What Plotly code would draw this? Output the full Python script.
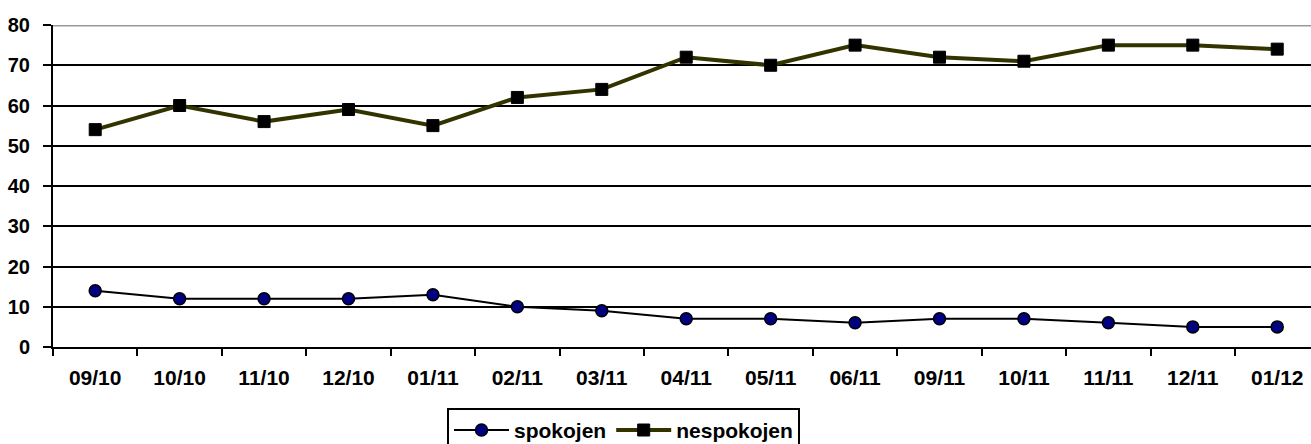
import plotly.graph_objects as go

categories = ["09/10", "10/10", "11/10", "12/10", "01/11", "02/11", "03/11", "04/11",
              "05/11", "06/11", "09/11", "10/11", "11/11", "12/11", "01/12"]
spokojen = [14, 12, 12, 12, 13, 10, 9, 7, 7, 6, 7, 7, 6, 5, 5]
nespokojen = [54, 60, 56, 59, 55, 62, 64, 72, 70, 75, 72, 71, 75, 75, 74]
y_ticks = [0, 10, 20, 30, 40, 50, 60, 70, 80]

font_family = "Liberation Sans, Arial, sans-serif"

fig = go.Figure()
fig.add_trace(go.Scatter(
    x=categories, y=spokojen, name="spokojen", mode="lines+markers",
    line=dict(color="black", width=2),
    marker=dict(symbol="circle", size=12, color="#000080", line=dict(color="black", width=1.5)),
))
fig.add_trace(go.Scatter(
    x=categories, y=nespokojen, name="nespokojen", mode="lines+markers",
    line=dict(color="#333300", width=4),
    marker=dict(symbol="square", size=12, color="black", line=dict(color="black", width=1)),
))

fig.update_layout(
    width=1311, height=444,
    margin=dict(l=53, r=0, t=25, b=97, autoexpand=False),
    paper_bgcolor="white", plot_bgcolor="white",
    font=dict(family=font_family, size=20, color="black"),
    showlegend=True,
    legend=dict(
        orientation="h", x=0.4535, xanchor="center", y=-0.189, yanchor="top",
        bordercolor="black", borderwidth=2, font=dict(size=21, color="black", weight="bold"),
        itemwidth=55, tracegroupgap=0,
    ),
)
fig.update_xaxes(
    type="category", range=[-0.5, 14.4], automargin=False,
    showline=True, linecolor="black", linewidth=2,
    ticks="outside", ticklen=7, tickwidth=2, tickcolor="black",
    tickson="boundaries", showgrid=False,
    tickfont=dict(size=21, family=font_family, weight="bold"), ticklabelstandoff=11,
)
fig.update_yaxes(
    range=[0, 80], tickvals=y_ticks, automargin=False,
    showline=True, linecolor="black", linewidth=2,
    ticks="outside", ticklen=8, tickwidth=2, tickcolor="black",
    showgrid=True, gridcolor="black", gridwidth=2, zeroline=False,
    tickfont=dict(size=20, family=font_family, weight="bold"), ticklabelstandoff=9,
)
fig.add_shape(type="line", xref="paper", yref="y", x0=0, x1=1, y0=80, y1=80,
              line=dict(color="#999999", width=3), layer="above")

fig.write_html("out.html", config={"displayModeBar": False},
               post_script="document.body.style.margin='0';")
